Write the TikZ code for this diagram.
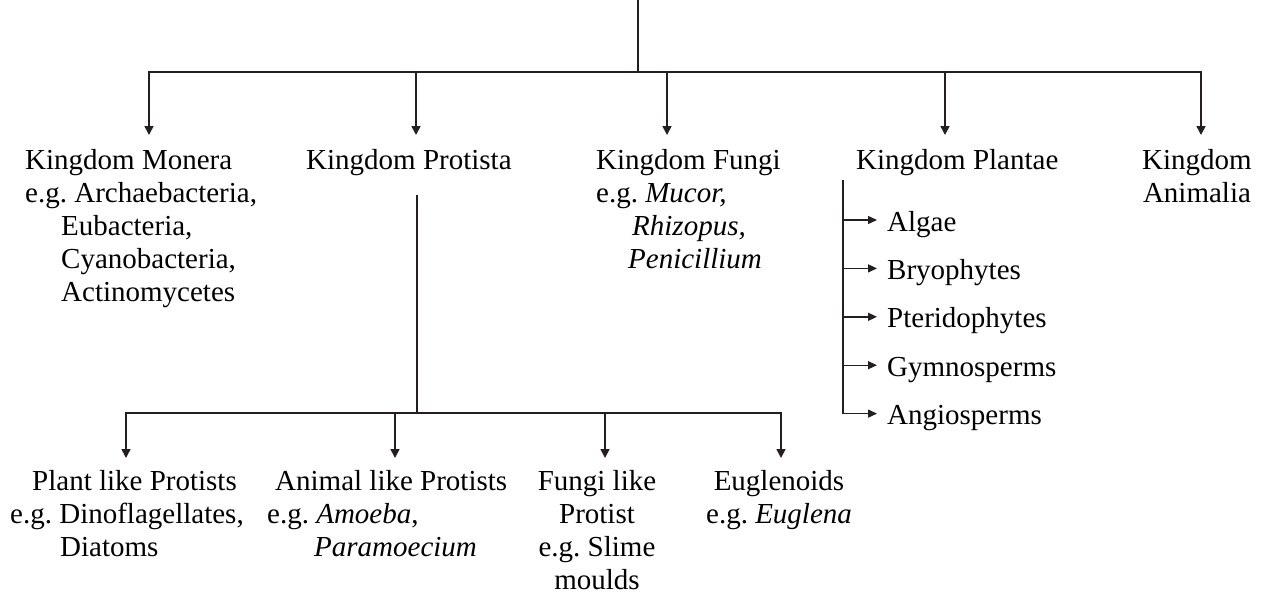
\documentclass[tikz,border=0pt]{standalone}
\usepackage{fontspec}
\setmainfont{Liberation Serif}
\usetikzlibrary{arrows.meta,positioning}
\definecolor{cline}{HTML}{231F20}
\definecolor{ctext}{HTML}{000000}
\tikzset{
  lbl/.style={inner sep=0pt, text=ctext, font=\fontsize{29}{33}\selectfont\frenchspacing},
  kbox/.style={lbl, align=left, anchor=north west},
  cbox/.style={lbl, align=center, anchor=north},
  sbox/.style={lbl, anchor=west, text height=22pt, text depth=0pt},
  bar/.style={draw=cline, line width=1.6pt, line cap=rect},
  drop/.style={bar, -{Triangle[length=9pt,width=9pt]}},
  side/.style={bar, line width=1.4pt, -{Triangle[length=9pt,width=8pt]}},
}
\newcommand{\ind}[1]{\hspace*{#1pt}}

\begin{document}
\begin{tikzpicture}[x=1pt, y=-1pt]
  \useasboundingbox (0,0) rectangle (1265,598);
  % five kingdoms
  \node[kbox] (monera) at (25,149) {Kingdom Monera\\e.g. Archaebacteria,\\\ind{36}Eubacteria,\\\ind{36}Cyanobacteria,\\\ind{36}Actinomycetes};
  \node[kbox] (protista) at (306,149) {Kingdom Protista};
  \node[kbox] (fungi) at (596,149) {Kingdom Fungi\\e.g. \textit{Mucor,}\\\ind{36}\textit{Rhizopus,}\\\ind{32}\textit{Penicillium}};
  \node[kbox] (plantae) at (856,149) {Kingdom Plantae};
  \node[cbox] (animalia) at (1197,149) {Kingdom\\Animalia};
  \coordinate (top) at (638,0);
  \coordinate (hub) at (638,72);
  \coordinate (cmon) at (149,72);
  \coordinate (cpro) at (416,72);
  \coordinate (cfun) at (667,72);
  \coordinate (cpla) at (945,72);
  \coordinate (cani) at (1201,72);
  \draw[bar] (top) -- (hub);
  \draw[bar] (cmon) -- (cani);
  \foreach \c/\n in {cmon/monera, cpro/protista, cfun/fungi, cpla/plantae, cani/animalia}
    \draw[drop, shorten >=14pt] (\c) -- (\c |- \n.north);

  % plant groups
  \coordinate (plv) at (843,0);
  \node[sbox] (algae) at (887,220) {Algae};
  \node[sbox, below=26pt of algae.south west, anchor=north west] (bryo) {Bryophytes};
  \node[sbox, below=26pt of bryo.south west, anchor=north west] (pterido) {Pteridophytes};
  \node[sbox, below=26pt of pterido.south west, anchor=north west] (gymno) {Gymnosperms};
  \node[sbox, below=26pt of gymno.south west, anchor=north west] (angio) {Angiosperms};
  \draw[bar] ([yshift=-5pt]plv |- plantae.south) -- (plv |- angio.west);
  \foreach \n in {algae,bryo,pterido,gymno,angio}
    \draw[side, shorten >=10pt] (plv |- \n.west) -- (\n.west);

  % protist groups
  \node[kbox] (plantlike) at (10,470) {\ind{22}Plant like Protists\\e.g. Dinoflagellates,\\\ind{50}Diatoms};
  \node[kbox] (animallike) at (267,470) {\ind{8}Animal like Protists\\e.g. \textit{Amoeba},\\\ind{47}\textit{Paramoecium}};
  \node[cbox] (fungilike) at (597,470) {Fungi like\\Protist\\e.g. Slime\\moulds};
  \node[cbox] (euglenoids) at (779,470) {Euglenoids\\e.g. \textit{Euglena}};
  \coordinate (psplit) at (417,413);
  \coordinate (cpl) at (126,413);
  \coordinate (can) at (395,413);
  \coordinate (cfl) at (605,413);
  \coordinate (ceu) at (781,413);
  \draw[bar] ([yshift=-20pt]psplit |- protista.south) -- (psplit);
  \draw[bar] (cpl) -- (ceu);
  \foreach \c/\n in {cpl/plantlike, can/animallike, cfl/fungilike, ceu/euglenoids}
    \draw[drop, shorten >=12pt] (\c) -- (\c |- \n.north);
\end{tikzpicture}
\end{document}
